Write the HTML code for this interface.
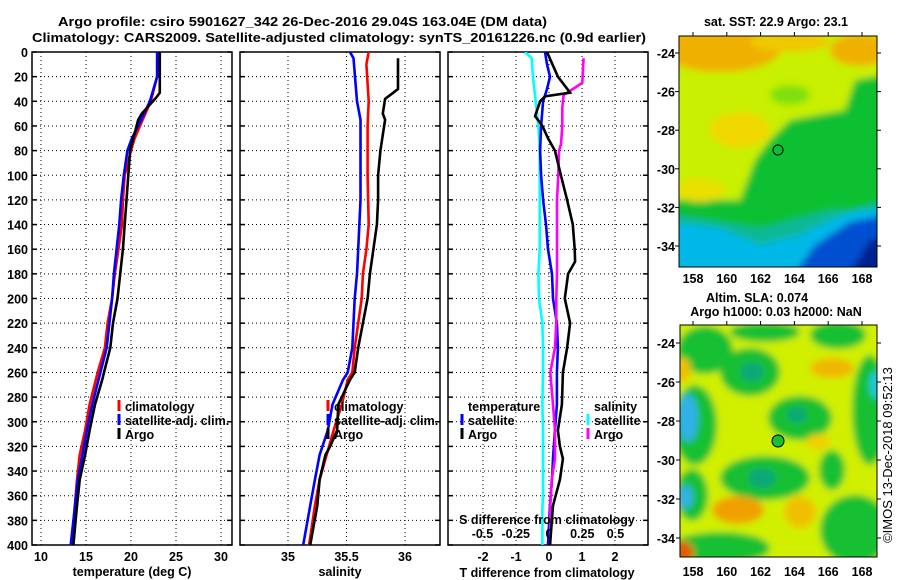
<!DOCTYPE html>
<html><head><meta charset="utf-8"><style>
body{margin:0;background:#fff;}
svg{display:block;font-family:"Liberation Sans",sans-serif;}
.b{font-weight:bold;font-size:12.5px;}
</style></head><body>
<svg id="c" width="900" height="580" viewBox="0 0 900 580">
<defs>
<filter id="bl" x="-10%" y="-10%" width="120%" height="120%"><feGaussianBlur stdDeviation="3.5"/></filter>
<clipPath id="cm1"><rect x="679" y="36" width="198" height="231"/></clipPath>
<clipPath id="cm2"><rect x="680" y="325" width="197" height="232"/></clipPath>
<clipPath id="cp1"><rect x="32" y="52" width="200" height="493"/></clipPath>
<clipPath id="cp2"><rect x="240" y="52" width="200" height="493"/></clipPath>
<clipPath id="cp3"><rect x="448" y="52" width="200" height="493"/></clipPath>
</defs>
<text class="b" x="58" y="26" font-size="14" textLength="489" lengthAdjust="spacingAndGlyphs">Argo profile: csiro 5901627_342 26-Dec-2016 29.04S 163.04E (DM data)</text>
<text class="b" x="32" y="42" font-size="14" textLength="614" lengthAdjust="spacingAndGlyphs">Climatology: CARS2009. Satellite-adjusted climatology: synTS_20161226.nc (0.9d earlier)</text>

<g id="maps">
<g clip-path="url(#cm1)">
<g filter="url(#bl)">
<rect x="670" y="28" width="215" height="250" fill="#10c030"/>
<polygon points="670,28 885,28 885,75 855,80 845,110 790,120 770,140 755,160 740,200 670,200" fill="#c8f000"/>
<ellipse cx="720" cy="50" rx="60" ry="22" fill="#f0b000"/>
<ellipse cx="860" cy="50" rx="30" ry="16" fill="#f0b000"/>
<ellipse cx="790" cy="42" rx="40" ry="10" fill="#f0c800"/>
<ellipse cx="740" cy="130" rx="30" ry="18" fill="#f0d800"/>
<ellipse cx="790" cy="95" rx="20" ry="10" fill="#80e010"/>
<ellipse cx="700" cy="190" rx="25" ry="12" fill="#e8e000"/>
<polygon points="670,222 720,228 760,245 800,235 830,220 885,200 885,280 670,280" fill="#00b8e8"/>
<polygon points="670,222 720,228 760,245 800,235 830,220 885,200 885,210 830,210 760,228 670,214" fill="#10b898"/>
<polygon points="790,280 815,245 850,222 885,215 885,280" fill="#0050d0"/>
<polygon points="845,280 870,240 885,235 885,280" fill="#002090"/>
</g>
<circle cx="778" cy="150" r="5" fill="none" stroke="#000" stroke-width="1"/>
</g>
<rect x="679" y="36" width="198" height="231" fill="none" stroke="#000"/>

<g clip-path="url(#cm2)">
<g filter="url(#bl)">
<rect x="670" y="315" width="215" height="250" fill="#d0f000"/>
<ellipse cx="705" cy="350" rx="28" ry="24" fill="#18c030"/>
<ellipse cx="765" cy="332" rx="35" ry="10" fill="#18c030"/>
<ellipse cx="838" cy="335" rx="28" ry="14" fill="#18c030"/>
<ellipse cx="750" cy="372" rx="30" ry="24" fill="#18c030"/>
<ellipse cx="752" cy="372" rx="12" ry="10" fill="#10a878"/>
<ellipse cx="695" cy="425" rx="22" ry="40" fill="#18c030"/>
<ellipse cx="688" cy="418" rx="10" ry="24" fill="#30b0e8"/>
<ellipse cx="870" cy="410" rx="18" ry="55" fill="#18c030"/>
<ellipse cx="877" cy="385" rx="8" ry="14" fill="#20c8d8"/>
<ellipse cx="800" cy="418" rx="32" ry="22" fill="#18c030"/>
<ellipse cx="797" cy="415" rx="10" ry="8" fill="#10a878"/>
<ellipse cx="765" cy="478" rx="45" ry="22" fill="#18c030"/>
<ellipse cx="762" cy="478" rx="14" ry="10" fill="#10a878"/>
<ellipse cx="832" cy="470" rx="13" ry="20" fill="#18c030"/>
<ellipse cx="855" cy="530" rx="35" ry="35" fill="#18c030"/>
<ellipse cx="720" cy="548" rx="50" ry="16" fill="#18c030"/>
<ellipse cx="692" cy="495" rx="16" ry="26" fill="#18c030"/>
<ellipse cx="686" cy="497" rx="7" ry="12" fill="#30b0e8"/>
<ellipse cx="738" cy="510" rx="26" ry="14" fill="#f0a000"/>
<ellipse cx="800" cy="512" rx="16" ry="16" fill="#f0c000"/>
<ellipse cx="832" cy="368" rx="22" ry="10" fill="#f0b800"/>
<ellipse cx="683" cy="370" rx="8" ry="12" fill="#f0c000"/>
<ellipse cx="818" cy="442" rx="12" ry="8" fill="#f0d000"/>
<ellipse cx="682" cy="553" rx="12" ry="12" fill="#e06000"/>
</g>
<circle cx="778" cy="441" r="6" fill="#18c030" stroke="#000" stroke-width="1"/>
</g>
<rect x="680" y="325" width="197" height="232" fill="none" stroke="#000"/>

<text class="b" x="776" y="26" text-anchor="middle">sat. SST: 22.9 Argo: 23.1</text>
<text class="b" x="757" y="302" text-anchor="middle">Altim. SLA: 0.074</text>
<text class="b" x="776" y="316" text-anchor="middle">Argo h1000: 0.03 h2000: NaN</text>
<text x="892" y="455" font-size="13" text-anchor="middle" transform="rotate(-90 892 455)">©IMOS 13-Dec-2018 09:52:13</text>
</g>
<g id="axes"></g>
</svg>
<script>
// ---- data ----
const tempDepthsArgo=[0,5,33,37,50,55,80,100,120,140,160,180,200,220,240,260,266,286,307,327,347,368,400];
const tempArgo=[23.2,23.2,23.2,22.8,21.2,20.8,19.9,19.7,19.5,19.3,19.1,18.8,18.5,18.0,17.7,17.0,16.8,16.0,15.4,14.9,14.3,14.0,13.6];
const tempDepthsClim=[0,20,40,50,60,70,80,100,120,140,160,180,200,220,240,260,286,307,327,347,400];
const tempClim=[23.1,22.9,22.2,21.6,21.0,20.4,20.0,19.3,19.1,19.0,18.6,18.2,17.9,17.4,17.1,16.3,15.4,14.9,14.3,14.0,13.4];
const tempDepthsSat=[0,20,40,60,70,80,100,120,140,160,180,200,220,240,260,286,307,327,347,400];
const tempSat=[22.9,22.9,22.1,20.8,20.1,19.6,19.2,18.9,18.7,18.4,18.1,17.9,17.6,17.3,16.6,15.7,15.1,14.6,14.1,13.3];
const salDepthsArgo=[5,30,33,38,50,55,80,100,120,140,160,180,200,220,240,260,266,286,307,320,327,347,368,400];
const salArgo=[35.94,35.94,35.9,35.83,35.81,35.83,35.79,35.77,35.77,35.76,35.73,35.70,35.68,35.64,35.60,35.57,35.53,35.43,35.42,35.36,35.32,35.27,35.25,35.19];
const salDepthsClim=[0,10,40,60,100,140,160,180,200,220,240,260,266,286,307,327,347,368,400];
const salClim=[35.69,35.67,35.69,35.68,35.68,35.69,35.67,35.64,35.63,35.60,35.57,35.55,35.51,35.46,35.39,35.33,35.27,35.23,35.18];
const salDepthsSat=[0,5,40,55,60,120,160,180,200,220,240,260,266,286,307,327,347,368,400];
const salSat=[35.53,35.56,35.59,35.62,35.62,35.62,35.60,35.59,35.57,35.56,35.55,35.51,35.47,35.38,35.34,35.27,35.23,35.19,35.13];
const dDepthsTArgo=[0,20,33,36,40,52,60,70,80,100,120,140,160,170,180,200,220,240,260,286,307,320,330,347,368,400];
const dTArgo=[-0.06,0.27,0.64,-0.12,-0.27,-0.42,-0.2,-0.03,0.18,0.36,0.55,0.72,0.78,0.79,0.58,0.48,0.64,0.55,0.42,0.39,0.27,0.33,0.42,0.33,0.12,0.03];
const dDepthsTSat=[0,10,20,30,40,60,80,100,120,140,160,180,200,220,240,260,286,307,330,347,368,400];
const dTSat=[-0.12,-0.06,0.03,-0.06,-0.18,-0.24,-0.27,-0.24,-0.18,-0.09,-0.03,0.09,0.12,0.24,0.27,0.24,0.24,0.18,0.12,0.09,0.03,-0.03];
const dDepthsSSat=[0,5,20,40,60,80,160,180,200,220,240,260,286,307,360,370,400];
const dSSat=[-0.18,-0.13,-0.12,-0.1,-0.08,-0.07,-0.07,-0.08,-0.075,-0.05,-0.045,-0.045,-0.05,-0.045,-0.045,-0.05,-0.05];
const dDepthsSArgo=[5,25,30,35,45,60,75,80,100,120,170,180,200,220,240,260,286,307,330,347,368,400];
const dSArgo=[0.26,0.25,0.18,0.11,0.1,0.1,0.09,0.075,0.07,0.06,0.06,0.06,0.055,0.055,0.045,0.01,0.03,0.045,0.045,0.02,0.01,0.01];
const depthTicks=[0,20,40,60,80,100,120,140,160,180,200,220,240,260,280,300,320,340,360,380,400];
const tempTicks=[10,15,20,25,30];
const salTicks=[35,35.5,36];
const salTickLabels=["35","35.5","36"];
const dTTicks=[-2,-1,0,1,2];
const dSTicks=[-0.5,-0.25,0,0.25,0.5];
const dSTickLabels=["-0.5","-0.25","0","0.25","0.5"];
const latTicks=[-24,-26,-28,-30,-32,-34];
const lonTicks=[158,160,162,164,166,168];

// ---- scales ----
const yD=d=>52+d*(493/400);
const xT=t=>41+(t-10)*9;
const xS=s=>288+(s-35)*117;
const xDT=v=>549+v*33;
const xDS=v=>549+v*133;
const xLon=l=>693+(l-158)*16.9;
const yLat1=l=>53+(-24-l)*19.3;
const yLat2=l=>343+(-24-l)*19.5;

const NS='http://www.w3.org/2000/svg';
const g=document.getElementById('axes');
function mk(tag,at,parent){const e=document.createElementNS(NS,tag);for(const k in at)e.setAttribute(k,at[k]);(parent||g).appendChild(e);return e;}

function panel(x0,name,xTicks,xf){
  const pg=mk('g',{});
  
  
  depthTicks.forEach(d=>{
    const y=yD(d);
    const l=mk('line',{x1:x0,x2:x0+200,y1:y,y2:y,stroke:'#000','stroke-dasharray':'1,3'},pg);
    
    
    mk('line',{x1:x0,x2:x0+5,y1:y,y2:y,stroke:'#000','stroke-width':1.5},pg);
    mk('line',{x1:x0+195,x2:x0+200,y1:y,y2:y,stroke:'#000','stroke-width':1.5},pg);
  });
  xTicks.forEach(v=>{
    const x=xf(v);
    const l=mk('line',{x1:x,x2:x,y1:52,y2:545,stroke:'#000','stroke-dasharray':'1,3'},pg);
    
    
  });
  const r=mk('rect',{x:x0,y:52,width:200,height:493,fill:'none',stroke:'#000','stroke-width':1.5},pg);
  
  
  return pg;
}
function line(depths,vals,xf,color,clip,name){
  const pts=depths.map((d,i)=>xf(vals[i]).toFixed(1)+','+yD(d).toFixed(1)).join(' ');
  const p=mk('polyline',{points:pts,fill:'none',stroke:color,'stroke-width':2.6,'clip-path':'url(#'+clip+')'});
  
  
}
function txt(x,y,s,anchor,name,extra){
  const t=mk('text',Object.assign({x:x,y:y,'text-anchor':anchor||'start','class':'b'},extra||{}));
  t.textContent=s;
  
  
  return t;
}
function legend(x,y,color,label,name){
  mk('line',{x1:x,x2:x,y1:y-11,y2:y,stroke:color,'stroke-width':3});
  txt(x+6,y,label,'start',name);
}

// panel 1 temperature
panel(32,'temperature',tempTicks,xT);
line(tempDepthsClim,tempClim,xT,'#ff0000','cp1','temperature-climatology-line');
line(tempDepthsSat,tempSat,xT,'#0000ff','cp1','temperature-satellite-line');
line(tempDepthsArgo,tempArgo,xT,'#000000','cp1','temperature-argo-line');
depthTicks.forEach(d=>txt(28,yD(d)+5,String(d),'end','depth-tick-label'));
tempTicks.forEach(v=>txt(xT(v),561,String(v),'middle','temperature-tick-label'));
txt(132,576,'temperature (deg C)','middle','temperature-axis-title');
legend(119,411,'#ff0000','climatology','legend-climatology');
legend(119,425,'#0000ff','satellite-adj. clim.','legend-satellite');
legend(119,439,'#000000','Argo','legend-argo');

// panel 2 salinity
panel(240,'salinity',salTicks,xS);
line(salDepthsClim,salClim,xS,'#ff0000','cp2','salinity-climatology-line');
line(salDepthsSat,salSat,xS,'#0000ff','cp2','salinity-satellite-line');
line(salDepthsArgo,salArgo,xS,'#000000','cp2','salinity-argo-line');
salTicks.forEach((v,i)=>txt(xS(v),561,salTickLabels[i],'middle','salinity-tick-label'));
txt(340,576,'salinity','middle','salinity-axis-title');
legend(328,411,'#ff0000','climatology','legend-climatology-2');
legend(328,425,'#0000ff','satellite-adj. clim.','legend-satellite-2');
legend(328,439,'#000000','Argo','legend-argo-2');

// panel 3 differences
panel(448,'difference',dTTicks,xDT);
line(dDepthsSSat,dSSat,xDS,'#00ffff','cp3','salinity-satellite-diff-line');
line(dDepthsTSat,dTSat,xDT,'#0000ff','cp3','temperature-satellite-diff-line');
line(dDepthsSArgo,dSArgo,xDS,'#ff00ff','cp3','salinity-argo-diff-line');
line(dDepthsTArgo,dTArgo,xDT,'#000000','cp3','temperature-argo-diff-line');
dTTicks.forEach(v=>txt(xDT(v),561,String(v),'middle','t-diff-tick-label'));
dSTicks.forEach((v,i)=>txt(xDS(v),538,dSTickLabels[i],'middle','s-diff-tick-label'));
txt(547,524,'S difference from climatology','middle','s-diff-axis-title');
txt(547,577,'T difference from climatology','middle','t-diff-axis-title');
txt(468,411,'temperature','start','legend-temperature-header');
legend(462,425,'#0000ff','satellite','legend-t-satellite');
legend(462,439,'#000000','Argo','legend-t-argo');
txt(594,411,'salinity','start','legend-salinity-header');
legend(588,425,'#00ffff','satellite','legend-s-satellite');
legend(588,439,'#ff00ff','Argo','legend-s-argo');

// map axes
latTicks.forEach(l=>{
  [[yLat1,679,877],[yLat2,680,877]].forEach(([f,xl,xr])=>{
    const y=f(l);
    mk('line',{x1:xl,x2:xl-4,y1:y,y2:y,stroke:'#000'});
    mk('line',{x1:xr,x2:xr+4,y1:y,y2:y,stroke:'#000'});
    txt(675,y+5,String(l),'end','latitude-tick-label');
  });
});
lonTicks.forEach(l=>{
  const x=xLon(l);
  mk('line',{x1:x,x2:x,y1:36,y2:32,stroke:'#000'});
  mk('line',{x1:x,x2:x,y1:325,y2:321,stroke:'#000'});
  txt(x,283,String(l),'middle','longitude-tick-label');
  txt(x,576,String(l),'middle','longitude-tick-label');
});
</script>
</body></html>
